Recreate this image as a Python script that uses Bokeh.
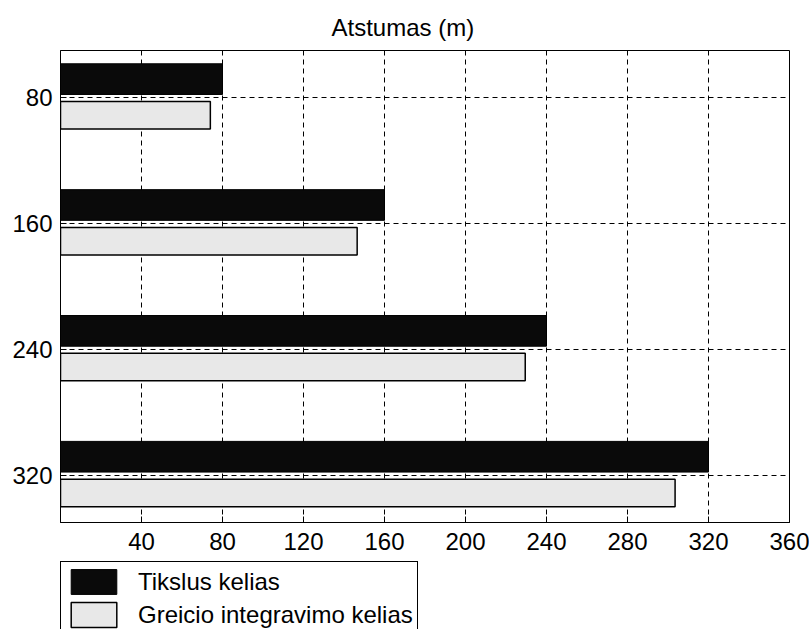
from bokeh.plotting import figure
from bokeh.layouts import column
from bokeh.models import Range1d, FixedTicker, Legend, LegendItem, ColumnDataSource
from bokeh.embed import file_html
from bokeh.resources import INLINE

# data
categories = [80, 160, 240, 320]
tikslus = [80, 160, 240, 320]
greicio = [74, 146.5, 229.5, 303.5]
x_ticks = [40, 80, 120, 160, 200, 240, 280, 320, 360]
series_names = ["Tikslus kelias", "Greicio integravimo kelias"]
series_colors = ["#0a0a0a", "#e8e8e8"]

FONT = "Liberation Sans"
FS = "24px"

src = ColumnDataSource(dict(
    cat=categories,
    y1=[c - 11.8 for c in categories],
    y2=[c + 11.2 for c in categories],
    t=tikslus, g=greicio,
))

p = figure(width=809, height=560, output_backend="svg", toolbar_location=None,
           x_range=Range1d(0, 360), y_range=Range1d(350, 50),
           min_border_left=60, min_border_right=20, min_border_top=50, min_border_bottom=38)

p.title.text = "Atstumas (m)"
p.title.text_font = FONT
p.title.text_font_size = FS
p.title.text_font_style = "normal"
p.title.align = "left"
p.title.offset = 271
p.title.standoff = 19
p.title.text_color = "black"

p.hbar(y="y1", right="t", left=0, height=19.5, source=src,
       fill_color=series_colors[0], line_color="black", line_width=1)
p.hbar(y="y2", right="g", left=0, height=17.5, source=src,
       fill_color=series_colors[1], line_color="black", line_width=1.5)

p.xaxis.ticker = FixedTicker(ticks=x_ticks)
p.yaxis.ticker = FixedTicker(ticks=categories)
for ax in (p.xaxis[0], p.yaxis[0]):
    ax.major_tick_in = 6
    ax.major_tick_out = 0
    ax.minor_tick_line_color = None
    ax.axis_line_color = "black"
    ax.major_tick_line_color = "black"
    ax.major_label_text_font = FONT
    ax.major_label_text_font_size = FS
    ax.major_label_text_color = "black"
p.xaxis.major_label_standoff = 10
p.yaxis.major_label_standoff = 8

for g in (p.xgrid[0], p.ygrid[0]):
    g.grid_line_color = "black"
    g.grid_line_dash = "5 4"
    g.grid_line_width = 1
    g.grid_line_alpha = 1.0

p.outline_line_color = "black"
p.outline_line_width = 1
p.outline_line_alpha = 1.0
p.background_fill_color = "white"
p.border_fill_color = "white"

# legend strip (the reference legend is cut off at the bottom edge)
lg = figure(width=809, height=69, output_backend="svg", toolbar_location=None,
            x_range=Range1d(0, 360), y_range=Range1d(0, 1),
            x_axis_type=None, y_axis_type=None,
            min_border_left=60, min_border_right=20, min_border_top=0, min_border_bottom=0)
lg.grid.visible = False
lg.outline_line_color = None
lg.background_fill_color = "white"
lg.border_fill_color = "white"
lr1 = lg.hbar(y="y1", right="t", left=0, height=19.5, source=src,
              fill_color=series_colors[0], line_color="black", line_width=1)
lr2 = lg.hbar(y="y2", right="g", left=0, height=17.5, source=src,
              fill_color=series_colors[1], line_color="black", line_width=1.5)
lr1.visible = False
lr2.visible = False

legend = Legend(items=[LegendItem(label=series_names[0], renderers=[lr1]),
                       LegendItem(label=series_names[1], renderers=[lr2])],
                location=(0, -6))
legend.label_text_font = FONT
legend.label_text_font_size = FS
legend.label_text_color = "black"
legend.glyph_width = 57
legend.glyph_height = 31
legend.label_height = 31
legend.label_standoff = 16
legend.padding = 4
legend.spacing = 2
legend.margin = 0
legend.inactive_fill_alpha = 0
legend.border_line_color = "black"
legend.border_line_width = 1
legend.border_line_alpha = 1.0
legend.background_fill_color = "white"
legend.background_fill_alpha = 1.0
lg.add_layout(legend, "center")

layout = column(p, lg, spacing=0)
open("out.html", "w").write(file_html(layout, INLINE))
